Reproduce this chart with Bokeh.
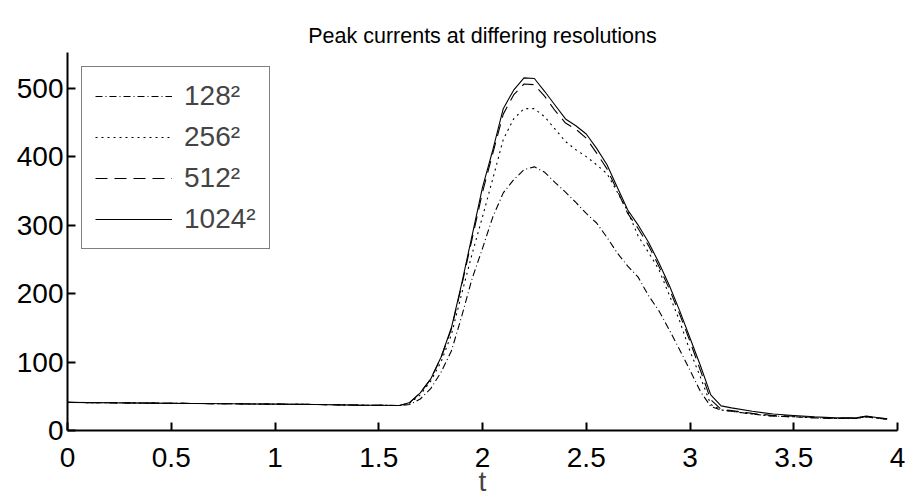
from bokeh.plotting import figure
from bokeh.models import Range1d, FixedTicker, Legend, LegendItem
from bokeh.embed import file_html
from bokeh.resources import INLINE

t = [0.0, 0.2, 0.4, 0.6, 0.8, 1.0, 1.2, 1.4, 1.6,
     1.65, 1.7, 1.75, 1.8, 1.85, 1.9, 1.95, 2.0, 2.05, 2.1, 2.15, 2.2, 2.25, 2.3,
     2.35, 2.4, 2.45, 2.5, 2.55, 2.6, 2.65, 2.7, 2.75, 2.8, 2.85, 2.9, 2.95, 3.0,
     3.05, 3.1, 3.15, 3.2,
     3.3, 3.4, 3.5, 3.6, 3.7, 3.8, 3.85, 3.9, 3.95]

res128 = [41, 40.5, 40, 39.5, 39, 38.5, 38, 37, 36.5,
          38, 46, 61, 85, 116, 167, 222, 266, 312, 347, 366, 381, 385, 377,
          362, 348, 333, 317, 303, 282, 259, 240, 224, 197, 175, 147, 118, 88,
          57, 35, 30, 28,
          24, 21, 20, 18.5, 17.5, 17.5, 20, 18, 16.5]

res256 = [41, 40.5, 40, 39.5, 39, 38.5, 38, 37, 36.5,
          40, 52, 72, 100, 140, 200, 258, 312, 368, 425, 455, 470, 470, 458,
          440, 422, 410, 400, 388, 375, 348, 320, 284, 260, 235, 198, 160, 116,
          78, 38, 30, 28,
          24, 21, 20, 18.5, 17.5, 17.5, 20, 18, 16.5]

res512 = [41, 40.5, 40, 39.5, 39, 38.5, 38, 37, 36.5,
          41, 55, 75, 106, 148, 212, 280, 348, 405, 462, 490, 506, 505, 488,
          467, 449, 440, 427, 405, 382, 350, 317, 295, 270, 240, 207, 170, 130,
          88, 45, 31, 29,
          25, 22, 21, 19, 18, 18, 20.5, 18.5, 17]

res1024 = [41, 40.5, 40, 39.5, 39, 38.5, 38, 37, 36.5,
           41, 55, 75, 107, 150, 215, 285, 355, 410, 470, 497, 515, 514, 495,
           475, 455, 445, 433, 412, 388, 355, 322, 300, 275, 245, 212, 175, 135,
           95, 52, 36, 33,
           28, 24, 22, 20, 18.5, 18.5, 21, 19, 17]

labels = ["128\u00b2", "256\u00b2", "512\u00b2", "1024\u00b2"]
dashes = ["7 3 1 3", "2 4", "12 7", "solid"]

x_ticks = [0, 0.5, 1, 1.5, 2, 2.5, 3, 3.5, 4]
x_tick_labels = ["0", "0.5", "1", "1.5", "2", "2.5", "3", "3.5", "4"]
y_ticks = [0, 100, 200, 300, 400, 500]
title_text = "Peak currents at differing resolutions"

FONT = "Liberation Sans"

p = figure(width=905, height=499, output_backend="svg", toolbar_location=None,
           x_range=Range1d(0, 4), y_range=Range1d(0, 552),
           min_border_left=67, min_border_right=8, min_border_top=52, min_border_bottom=67,
           title=title_text)
p.outline_line_color = None
p.xgrid.visible = False
p.ygrid.visible = False
p.background_fill_color = "white"
p.border_fill_color = "white"

p.title.text_font = FONT
p.title.text_font_size = "21.5px"
p.title.text_font_style = "normal"
p.title.align = "center"
p.title.standoff = 10
p.title.text_color = "black"

for ax in (p.xaxis[0], p.yaxis[0]):
    ax.axis_line_width = 2
    ax.axis_line_color = "black"
    ax.major_tick_in = 8
    ax.major_tick_out = 0
    ax.major_tick_line_width = 2
    ax.major_tick_line_color = "black"
    ax.minor_tick_line_color = None
    ax.major_label_text_font = FONT
    ax.major_label_text_font_size = "28px"
    ax.major_label_text_color = "black"

p.xaxis.ticker = FixedTicker(ticks=x_ticks)
p.xaxis.major_label_overrides = {tk: lb for tk, lb in zip(x_ticks, x_tick_labels)}
p.xaxis.major_label_standoff = 17
p.xaxis.axis_label = "t"
p.xaxis.axis_label_text_font = FONT
p.xaxis.axis_label_text_font_size = "28px"
p.xaxis.axis_label_text_font_style = "normal"
p.xaxis.axis_label_standoff = -4

p.yaxis.ticker = FixedTicker(ticks=y_ticks)
p.yaxis.major_label_standoff = 4

items = []
for ys, lab, d in zip([res128, res256, res512, res1024], labels, dashes):
    r = p.line(t, ys, line_color="black", line_width=1.1, line_dash=d)
    items.append(LegendItem(label=lab, renderers=[r]))

legend = Legend(items=items, location="top_left")
legend.margin = 14
legend.padding = 13
legend.spacing = 9
legend.glyph_width = 77
legend.glyph_height = 26
legend.label_height = 26
legend.label_standoff = 12
legend.label_text_font = FONT
legend.label_text_font_size = "28px"
legend.border_line_color = "black"
legend.border_line_width = 1
legend.background_fill_alpha = 1
p.add_layout(legend)

open("out.html", "w").write(file_html(p, INLINE))
